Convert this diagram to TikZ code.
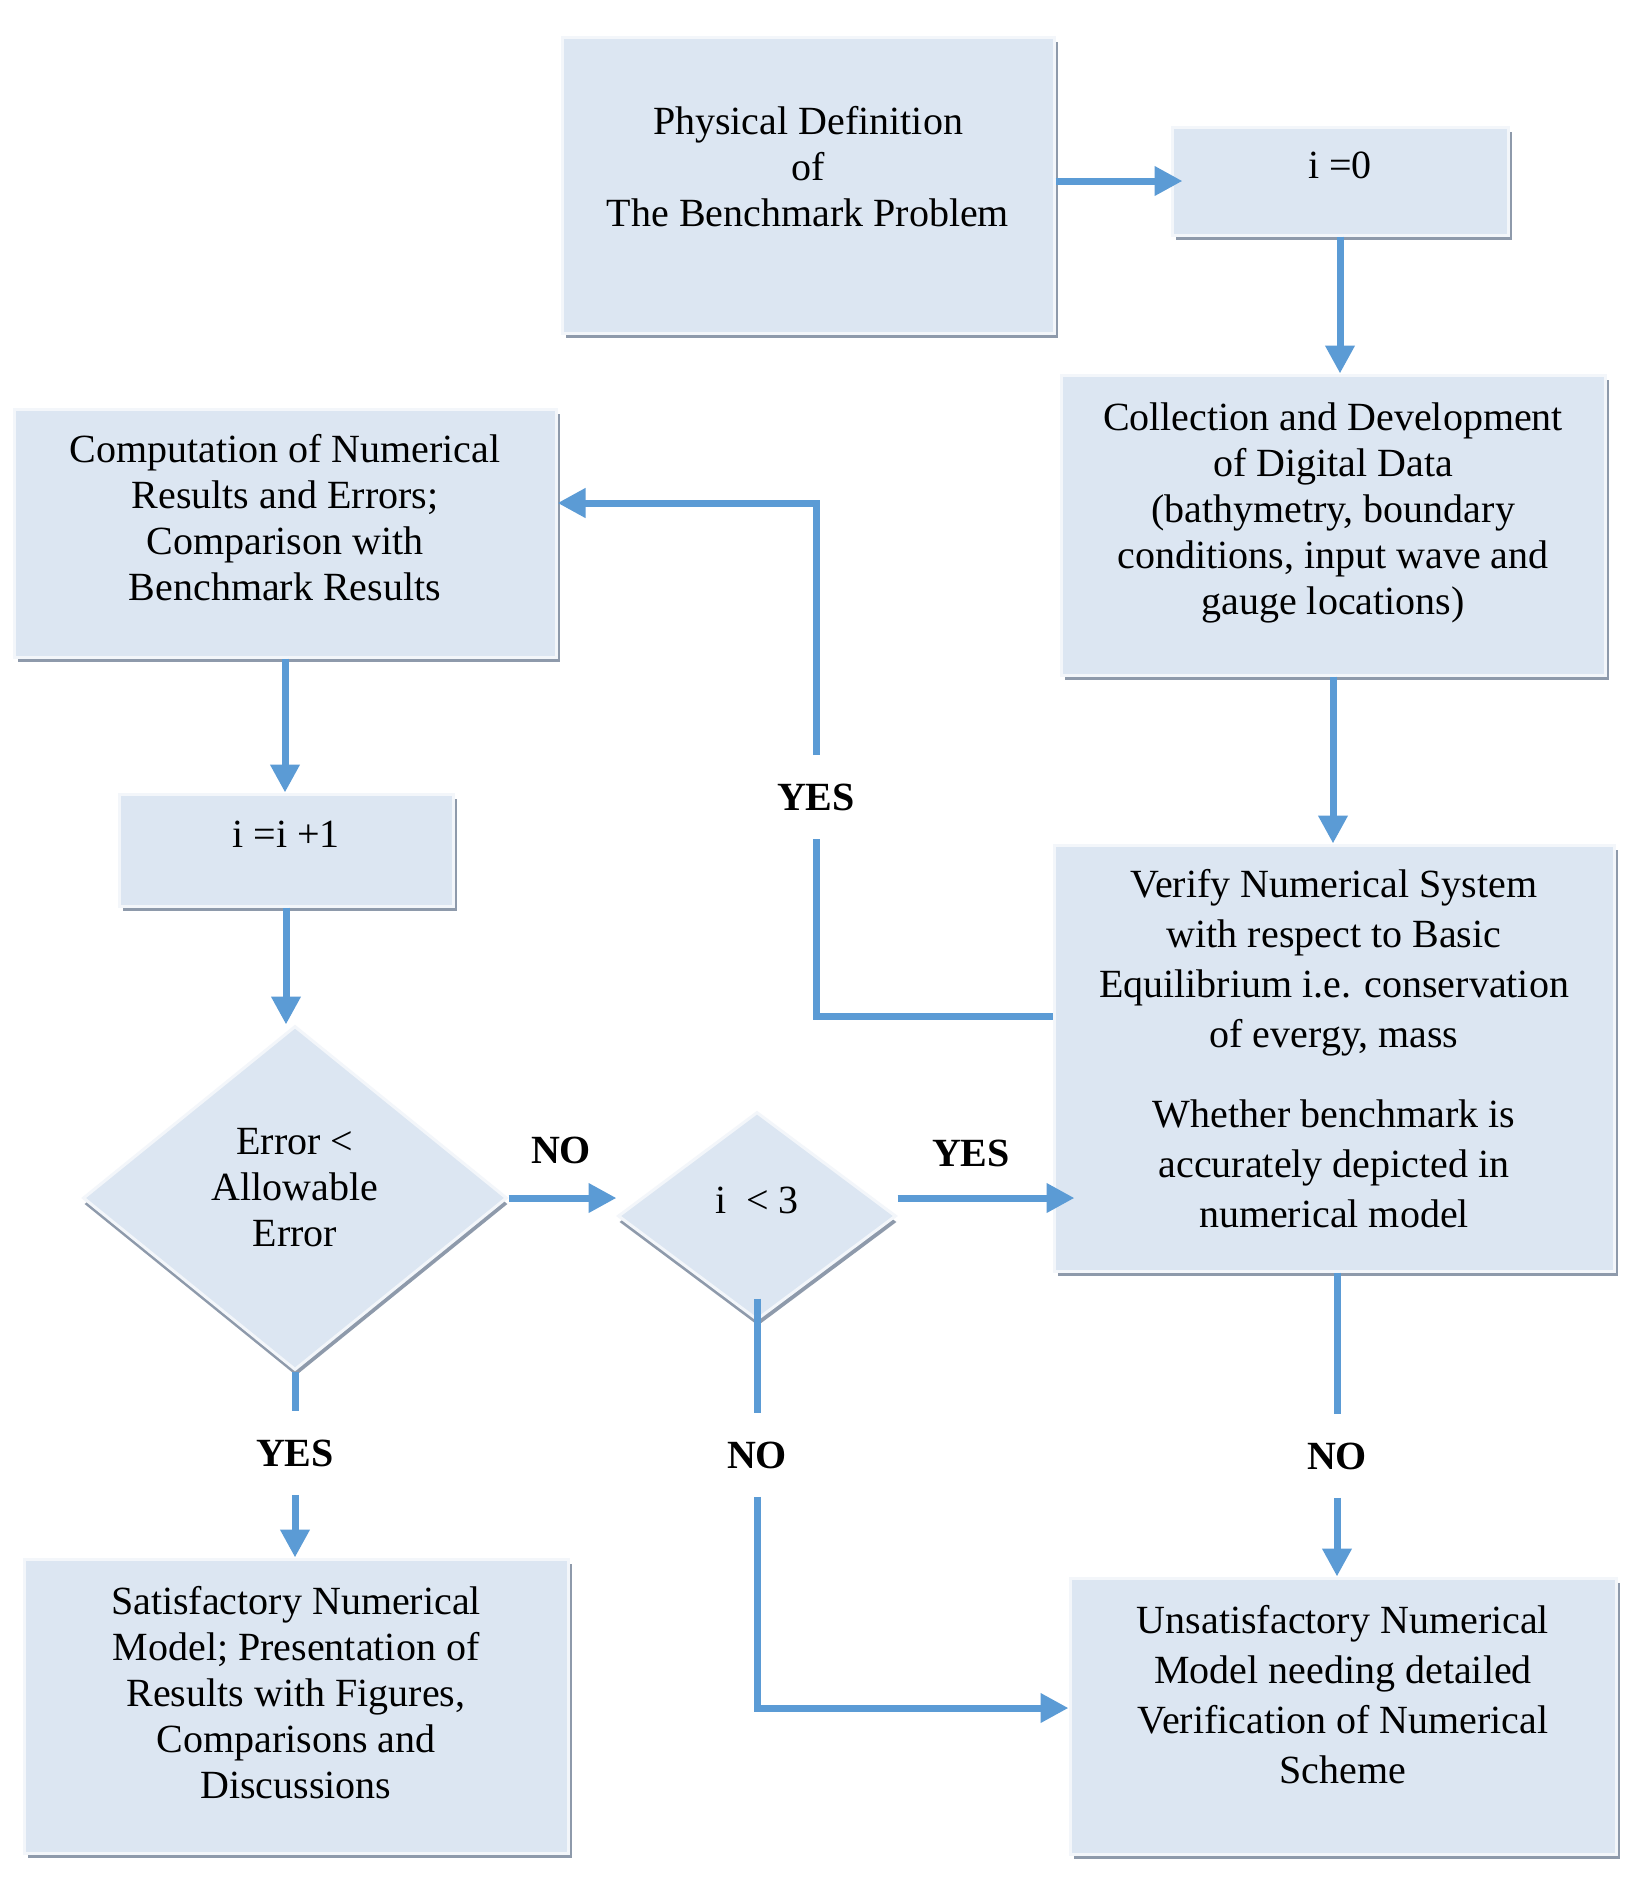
\documentclass[tikz,border=0pt]{standalone}
\usepackage{fontspec}
\setmainfont{Liberation Serif}
\usetikzlibrary{shapes.geometric,arrows.meta,shadows}
\definecolor{boxblue}{HTML}{DCE6F2}
\definecolor{arrowblue}{HTML}{5B9BD5}
\definecolor{shadowgrey}{HTML}{8E9AAB}

\begin{document}
\begin{tikzpicture}[x=0.5pt,y=-0.5pt,
		box/.style={rectangle,fill=boxblue,draw=boxblue!35!white,line width=1.5pt,
			drop shadow={shadow xshift=2pt,shadow yshift=-2.5pt,fill=shadowgrey,opacity=1},
			align=center,font=\fontsize{20}{23}\selectfont,text depth=16pt,inner sep=0pt},
		decision/.style={diamond,fill=boxblue,draw=boxblue!35!white,line width=1.5pt,
			drop shadow={shadow xshift=0.5pt,shadow yshift=-3pt,fill=shadowgrey,opacity=1},
			align=center,font=\fontsize{20}{23}\selectfont,inner sep=0pt},
		flow/.style={draw=arrowblue,line width=3.5pt,-{Triangle[length=14pt,width=14pt]}},
		link/.style={draw=arrowblue,line width=3.5pt},
		answer/.style={font=\fontsize{20}{23}\selectfont\bfseries,inner xsep=2pt,inner ysep=14pt}
	]
	\path[use as bounding box,fill=white] (0,0) rectangle (1630,1881);

	% boxes
	\node[box,minimum width=246pt,minimum height=148pt,text depth=19pt] (phys) at (808,185)
		{Physical Definition\\of\\The Benchmark Problem};
	\node[box,minimum width=168pt,minimum height=54pt] (izero) at (1340,181) {i =0};
	\node[box,minimum width=272pt,minimum height=150pt] (coll) at (1333,525)
		{Collection and Development\\of Digital Data\\(bathymetry, boundary\\conditions, input wave and\\gauge locations)};
	\node[box,minimum width=271pt,minimum height=124pt] (comp) at (285,533)
		{Computation of Numerical\\Results and Errors;\\Comparison with\\Benchmark Results};
	\node[box,minimum width=167pt,minimum height=56pt] (inc) at (286,850) {i =i +1};
	\node[decision,minimum width=212pt,minimum height=172pt,text depth=11pt] (err) at (295,1198)
		{Error <\\Allowable\\Error};
	\node[decision,minimum width=139pt,minimum height=104pt,text depth=16pt] (lt) at (757,1216)
		{i \ < 3};
	\node[box,minimum width=280pt,minimum height=213pt,text depth=10pt,font=\fontsize{20}{25}\selectfont] (ver) at (1334,1058)
		{Verify Numerical System\\with respect to Basic\\Equilibrium i.e. conservation\\of evergy, mass\\[15pt]Whether benchmark is\\accurately depicted in\\numerical model};
	\node[box,minimum width=272pt,minimum height=147pt,text depth=14pt] (sat) at (296,1706)
		{Satisfactory Numerical\\Model; Presentation of\\Results with Figures,\\Comparisons and\\Discussions};
	\node[box,minimum width=273pt,minimum height=138pt,text depth=22pt,font=\fontsize{20}{25}\selectfont] (uns) at (1343,1716)
		{Unsatisfactory Numerical\\Model needing detailed\\Verification of Numerical\\Scheme};

	% answers
	\node[answer] (yesA) at (816,797) {YES};
	\node[answer] (noA) at (561,1150) {NO};
	\node[answer] (yesB) at (971,1153) {YES};
	\node[answer] (yesC) at (295,1453) {YES};
	\node[answer] (noB) at (757,1455) {NO};
	\node[answer] (noC) at (1337,1456) {NO};

	% connectors
	\draw[flow,shorten >=-6pt] (phys.east |- izero.west) -- (izero.west);
	\draw[flow] (izero.south) -- (izero.south |- coll.north);
	\draw[flow] (coll.south) -- (coll.south |- ver.north);
	\draw[link] ([yshift=21pt]ver.west) -| (yesA.south);
	\draw[flow] (yesA.north) |- ([yshift=15pt]comp.east);
	\draw[flow] (comp.south) -- (comp.south |- inc.north);
	\draw[flow] (inc.south) -- (inc.south |- err.north);
	\draw[flow] (err.east) -- (err.east -| lt.west);
	\draw[flow,shorten >=-11pt] (lt.east |- err.east) -- (ver.west |- err.east);
	\draw[link] (err.south) -- (yesC.north);
	\draw[flow] (yesC.south) -- (yesC.south |- sat.north);
	\draw[link] ([yshift=11.5pt]lt.south) -- (noB.north);
	\draw[flow] (noB.south) |- ([yshift=4pt]uns.west);
	\draw[link] (ver.south -| noC) -- (noC.north);
	\draw[flow] (noC.south) -- (noC.south |- uns.north);
\end{tikzpicture}
\end{document}
